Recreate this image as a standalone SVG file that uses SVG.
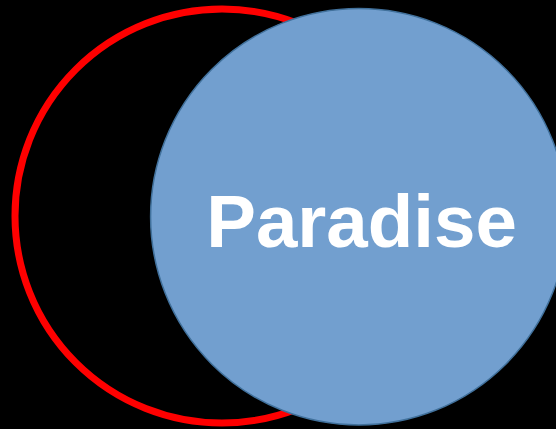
<svg xmlns="http://www.w3.org/2000/svg" width="556" height="429" viewBox="0 0 556 429">
<style>
.label{font-family:"Liberation Sans",Arial,sans-serif;font-weight:bold;font-size:74.5px;fill:#ffffff;text-anchor:middle}
</style>
<rect width="556" height="429" fill="#000000"/>
<g id="red-circle">
<circle cx="222" cy="216" r="207" fill="none" stroke="#ff0000" stroke-width="7"/>
</g>
<g id="paradise">
<circle cx="358.8" cy="216.7" r="208.2" fill="#729fcf" stroke="#41719c" stroke-width="1.5"/>
<text class="label" x="361.5" y="246.7">Paradise</text>
</g>
<g id="connectors"/>
</svg>
